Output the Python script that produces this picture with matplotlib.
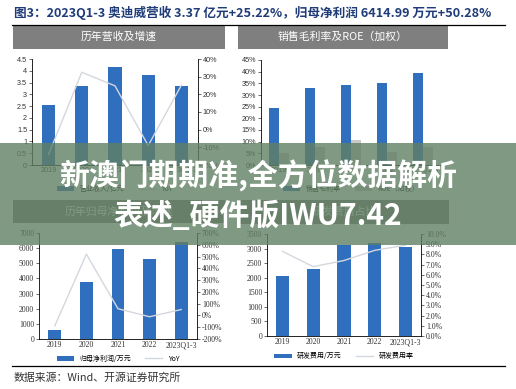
import matplotlib
matplotlib.use("Agg")
import matplotlib.pyplot as plt
from matplotlib.patches import Rectangle
from matplotlib.ticker import FuncFormatter, MultipleLocator
import numpy as np

W, H = 516, 389
CJK = ['Noto Sans CJK SC', 'DejaVu Sans']
plt.rcParams['font.family'] = CJK

years = ["2019", "2020", "2021", "2022", "2023Q1-3"]
revenue = [2.53, 3.35, 4.18, 3.80, 3.37]           # 亿元
revenue_yoy = [-14.0, 32.5, 24.8, -9.0, 25.22]     # %
gross_margin = [24.3, 32.9, 34.3, 35.3, 39.6]      # %
roe = [5.0, 7.9, 10.7, 5.7, 7.9]                   # %
net_profit = [600, 3780, 5950, 5280, 6415]         # 万元
profit_yoy = [-88, 520, 57, -11, 50.28]            # %
rd_cost = [2060, 2300, 3127, 3206, 3048]           # 万元
rd_rate = [8.3, 6.8, 7.4, 8.4, 8.9]                # %

BLUE = "#2f6fbe"
LINE = "#d3d7de"
GREY = "#c9c9c9"

fig = plt.figure(figsize=(W / 100, H / 100), dpi=100)


def rect(x0, y0, x1, y1):
    return [x0 / W, 1 - y1 / H, (x1 - x0) / W, (y1 - y0) / H]


def title_box(x0, y0, x1, y1, text):
    fig.patches.append(Rectangle((x0 / W, 1 - y1 / H), (x1 - x0) / W, (y1 - y0) / H,
                                 transform=fig.transFigure, facecolor="#7f7f7f",
                                 edgecolor="none", zorder=1))
    fig.text((x0 + x1) / 2 / W, 1 - (y0 + y1) / 2 / H, text, color="white",
             ha="center", va="center", fontsize=7.8, family=CJK)


def style(ax, fam, fs=5.2):
    for s in ["top", "right"]:
        ax.spines[s].set_visible(False)
    ax.spines["left"].set_linewidth(0.6)
    ax.spines["bottom"].set_linewidth(0.6)
    ax.tick_params(axis="both", labelsize=fs, length=2, width=0.5, pad=1.5, colors="#333333")
    ax.tick_params(axis="x", length=0)
    for lab in ax.get_xticklabels() + ax.get_yticklabels():
        lab.set_family(fam)


def style_r(ax2, fam, fs=5.2):
    for s in ["top", "left", "bottom"]:
        ax2.spines[s].set_visible(False)
    ax2.spines["right"].set_linewidth(0.6)
    ax2.tick_params(axis="y", labelsize=fs, length=2, width=0.5, pad=1.5, colors="#333333")
    for lab in ax2.get_yticklabels():
        lab.set_family(fam)


x = np.arange(len(years))
pct0 = FuncFormatter(lambda v, p: f"{v:.0f}%")
pct1 = FuncFormatter(lambda v, p: f"{v:.1f}%")

# ---------- header ----------
fig.text(14 / W, 1 - 13 / H,
         "图3：2023Q1-3 奥迪威营收 3.37 亿元+25.22%，归母净利润 6414.99 万元+50.28%",
         color="#1f3c78", fontsize=9.1, fontweight="bold", ha="left", va="center", family=CJK)
fig.add_artist(plt.Line2D([12 / W, 505 / W], [1 - 25 / H, 1 - 25 / H], color="black", lw=0.9))

# ---------- top-left: revenue ----------
title_box(13, 25, 225, 49, "历年营收及增速")
ax = fig.add_axes(rect(32, 59, 198, 165))
ax.bar(x, revenue, width=0.4, color=BLUE, label="营业收入/亿元")
ax.set_xlim(-0.5, 4.5)
ax.set_ylim(0, 4.5)
ax.yaxis.set_major_locator(MultipleLocator(0.5))
ax.yaxis.set_major_formatter(FuncFormatter(lambda v, p: f"{v:g}"))
ax.set_xticks(x, years)
ax2 = ax.twinx()
ax2.plot(x, revenue_yoy, color=LINE, lw=1.0, label="YoY")
ax2.set_ylim(-20, 40)
ax2.yaxis.set_major_locator(MultipleLocator(10))
ax2.yaxis.set_major_formatter(pct0)
style(ax, "Liberation Sans")
style_r(ax2, "Liberation Sans")
h1, l1 = ax.get_legend_handles_labels()
h2, l2 = ax2.get_legend_handles_labels()
ax.legend(h1 + h2, l1 + l2, loc="upper center", bbox_to_anchor=(0.5, -0.13), ncol=2,
          frameon=False, fontsize=5, handlelength=2.5, handleheight=0.6, columnspacing=2)

# ---------- top-right: gross margin & ROE ----------
title_box(238, 25, 448, 49, "销售毛利率及ROE（加权）")
ax = fig.add_axes(rect(261, 60, 441, 165))
bw = 0.29
ax.bar(x - bw / 2, gross_margin, width=bw, color=BLUE, label="销售毛利率")
ax.bar(x + bw / 2, roe, width=bw, color=GREY, label="ROE（加权）")
ax.set_xlim(-0.5, 4.5)
ax.set_ylim(0, 45)
ax.yaxis.set_major_locator(MultipleLocator(5))
ax.yaxis.set_major_formatter(pct0)
ax.set_xticks(x, years)
style(ax, "Liberation Sans")
ax.legend(loc="upper center", bbox_to_anchor=(0.5, -0.13), ncol=2,
          frameon=False, fontsize=5, handlelength=2.5, handleheight=0.6, columnspacing=2)

# ---------- bottom-left: net profit ----------
title_box(13, 200, 225, 223, "历年归母净利润及增速")
ax = fig.add_axes(rect(39, 233, 197, 339))
ax.bar(x, net_profit, width=0.4, color=BLUE, label="归母净利润/万元")
ax.set_xlim(-0.5, 4.5)
ax.set_ylim(0, 7000)
ax.yaxis.set_major_locator(MultipleLocator(1000))
ax.set_xticks(x, years)
ax2 = ax.twinx()
ax2.plot(x, profit_yoy, color=LINE, lw=1.0, label="YoY")
ax2.set_ylim(-200, 700)
ax2.yaxis.set_major_locator(MultipleLocator(100))
ax2.yaxis.set_major_formatter(pct0)
style(ax, "Liberation Serif", 5.6)
style_r(ax2, "Liberation Serif", 5.6)
h1, l1 = ax.get_legend_handles_labels()
h2, l2 = ax2.get_legend_handles_labels()
ax.legend(h1 + h2, l1 + l2, loc="upper center", bbox_to_anchor=(0.5, -0.09), ncol=2,
          frameon=False, fontsize=5, handlelength=2.5, handleheight=0.6, columnspacing=2)

# ---------- bottom-right: R&D ----------
title_box(240, 200, 449, 224, "研发费用占比")
ax = fig.add_axes(rect(267, 234, 421, 336))
ax.bar(x, rd_cost, width=0.43, color=BLUE, label="研发费用/万元")
ax.set_xlim(-0.5, 4.5)
ax.set_ylim(0, 3500)
ax.yaxis.set_major_locator(MultipleLocator(500))
ax.set_xticks(x, years)
ax2 = ax.twinx()
ax2.plot(x, rd_rate, color=LINE, lw=1.0, label="研发费用率")
ax2.set_ylim(0, 10)
ax2.yaxis.set_major_locator(MultipleLocator(1))
ax2.yaxis.set_major_formatter(pct1)
style(ax, "Liberation Serif", 5.6)
style_r(ax2, "Liberation Serif", 5.6)
h1, l1 = ax.get_legend_handles_labels()
h2, l2 = ax2.get_legend_handles_labels()
ax.legend(h1 + h2, l1 + l2, loc="upper center", bbox_to_anchor=(0.5, -0.1), ncol=2,
          frameon=False, fontsize=5, handlelength=2.5, handleheight=0.6, columnspacing=2)

# ---------- footer ----------
fig.add_artist(plt.Line2D([12 / W, 505 / W], [1 - 366 / H, 1 - 366 / H], color="black", lw=0.9))
fig.text(14 / W, 1 - 378 / H, "数据来源：Wind、开源证券研究所", color="#333333",
         fontsize=7.8, ha="left", va="center", family=CJK)

# ---------- overlay banner ----------
banner = Rectangle((0, 1 - 245 / H), 1, (245 - 143) / H, transform=fig.transFigure,
                   facecolor=(0.38, 0.5, 0.39), alpha=0.8, edgecolor="none", zorder=50)
fig.add_artist(banner)
fig.text(0.5, 1 - 176 / H, "新澳门期期准,全方位数据解析", color="white", fontsize=21.5,
         fontweight="bold", ha="center", va="center", family=CJK, zorder=60)
fig.text(0.5, 1 - 216 / H, "表述_硬件版IWU7.42", color="white", fontsize=21.5,
         fontweight="bold", ha="center", va="center", family=CJK, zorder=60)

fig.savefig("out.png", dpi=100)
